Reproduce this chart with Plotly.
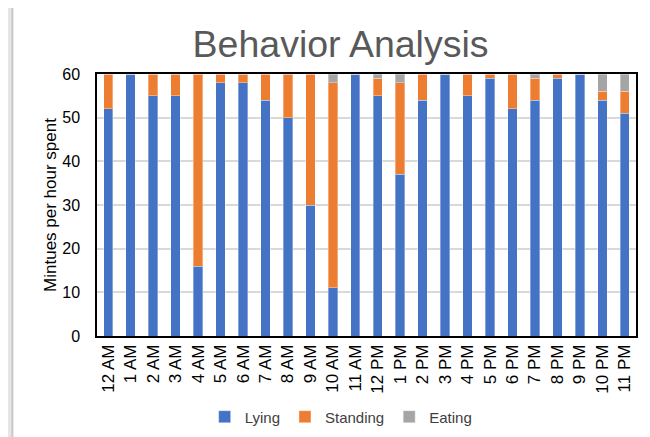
import plotly.graph_objects as go

hours = ["12 AM", "1 AM", "2 AM", "3 AM", "4 AM", "5 AM", "6 AM", "7 AM", "8 AM", "9 AM", "10 AM", "11 AM",
         "12 PM", "1 PM", "2 PM", "3 PM", "4 PM", "5 PM", "6 PM", "7 PM", "8 PM", "9 PM", "10 PM", "11 PM"]
lying = [52, 60, 55, 55, 16, 58, 58, 54, 50, 30, 11, 60,
         55, 37, 54, 60, 55, 59, 52, 54, 59, 60, 54, 51]
standing = [8, 0, 5, 5, 44, 2, 2, 6, 10, 30, 47, 0,
            4, 21, 6, 0, 5, 1, 8, 5, 1, 0, 2, 5]
eating = [0, 0, 0, 0, 0, 0, 0, 0, 0, 0, 2, 0,
          1, 2, 0, 0, 0, 0, 0, 1, 0, 0, 4, 4]

font_family = "Liberation Sans, Arial, sans-serif"

fig = go.Figure()
for name, vals, color in [("Lying", lying, "#4472C4"),
                          ("Standing", standing, "#ED7D31"),
                          ("Eating", eating, "#A5A5A5")]:
    fig.add_trace(go.Bar(x=hours, y=vals, name=name,
                         marker=dict(color=color, line=dict(color="rgba(255,255,255,0.35)", width=1))))

# outer chart-frame shadow strip on the left
fig.add_shape(type="rect", xref="paper", yref="paper", x0=-0.2, x1=-0.156, y0=-0.5, y1=1.4,
              fillcolor="#e6e6e6", line=dict(width=0), layer="below")
fig.add_shape(type="line", xref="paper", yref="paper", x0=-0.157, x1=-0.157, y0=-0.5, y1=1.4,
              line=dict(color="#c8c8c8", width=2), layer="below")

fig.update_layout(
    barmode="stack",
    bargap=0.58,
    width=642, height=429,
    margin=dict(l=89, r=14, t=66, b=101, autoexpand=False),
    paper_bgcolor="white", plot_bgcolor="white",
    font=dict(family=font_family, color="black", size=16),
    title=dict(text="Behavior Analysis", x=0.518, xanchor="center", y=0.916, yanchor="middle",
               xref="container", yref="container",
               font=dict(family=font_family, size=37.5, color="#595959")),
    legend=dict(orientation="h", x=0.453, xanchor="center", y=-0.309, yanchor="middle",
                font=dict(size=15, color="#404040"), itemwidth=30, traceorder="normal"),
    xaxis=dict(tickangle=-90, showline=True, linecolor="black", linewidth=1.5, mirror=True,
               automargin=False, ticks="", tickfont=dict(size=17, color="black")),
    yaxis=dict(range=[0, 60], dtick=10, showline=True, linecolor="black", linewidth=1.5, mirror=True,
               automargin=False, ticklabelstandoff=12,
               showgrid=True, gridcolor="#d9d9d9", gridwidth=1.5, ticks="",
               tickfont=dict(size=16, color="black"),
               title=dict(text="Mintues per hour spent", font=dict(size=17, color="black"), standoff=1)),
)

fig.write_html("out.html")
